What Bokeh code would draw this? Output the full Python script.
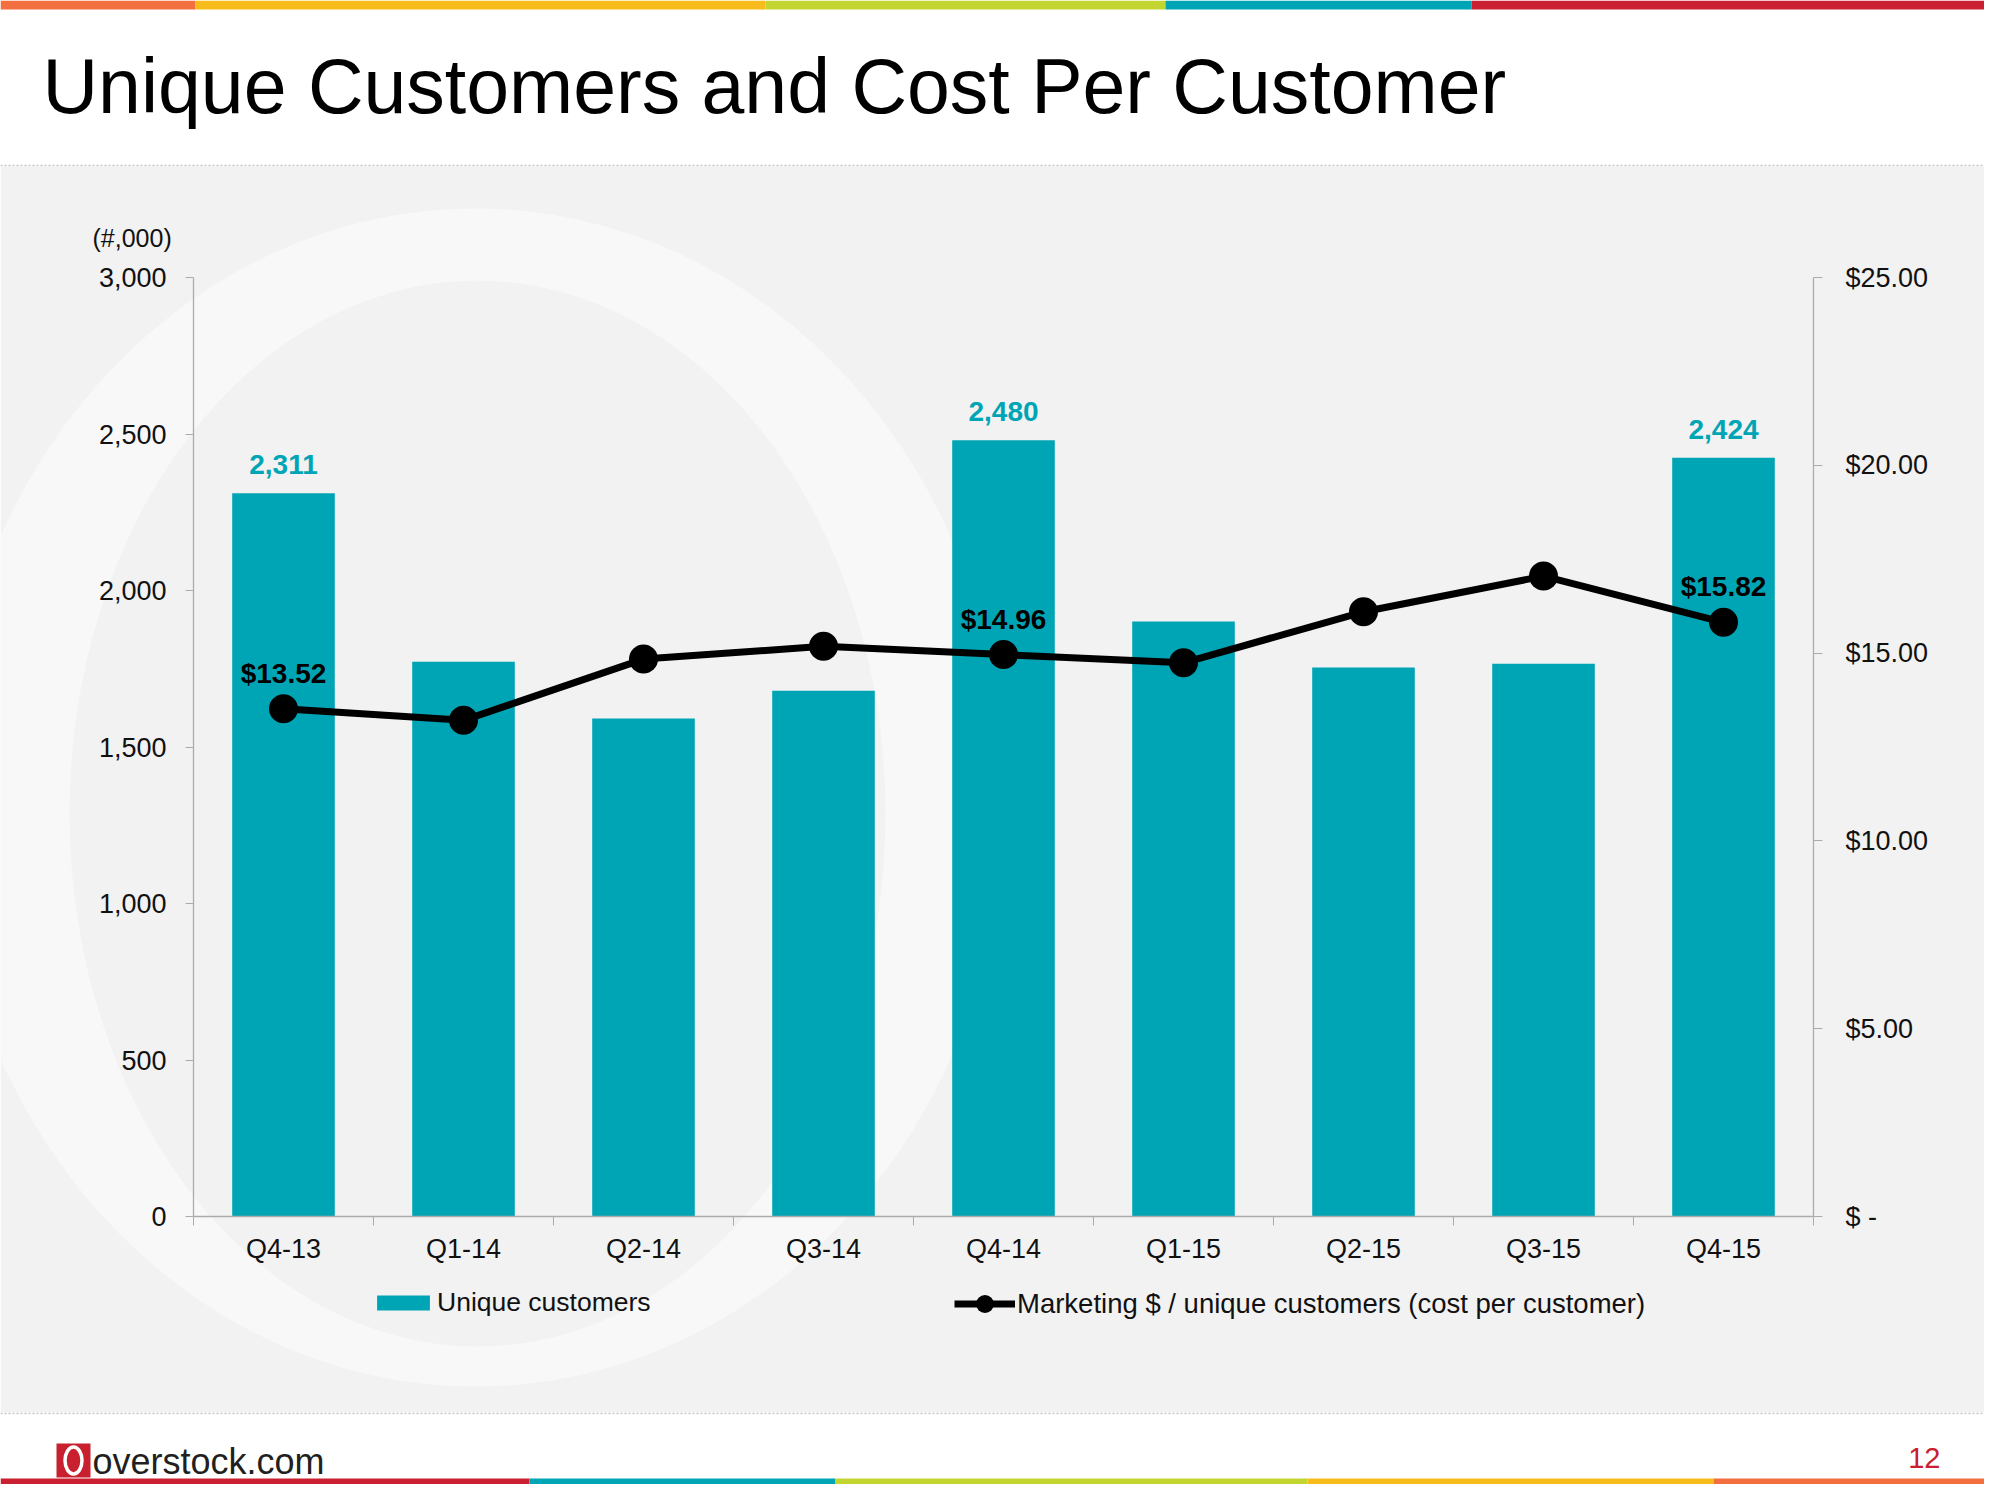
from bokeh.plotting import figure
from bokeh.models import (Range1d, LinearAxis, FixedTicker, NumeralTickFormatter,
                          ColumnDataSource, LabelSet, Legend, LegendItem, Label)
from bokeh.embed import file_html
from bokeh.resources import INLINE
from bokeh.core.properties import value

# ---------------- data ----------------
quarters = ["Q4-13", "Q1-14", "Q2-14", "Q3-14", "Q4-14", "Q1-15", "Q2-15", "Q3-15", "Q4-15"]
unique_customers = [2311, 1772, 1591, 1680, 2480, 1901, 1754, 1766, 2424]
cost_per_customer = [13.52, 13.21, 14.84, 15.18, 14.96, 14.74, 16.10, 17.05, 15.82]
labeled_quarters = ["Q4-13", "Q4-14", "Q4-15"]
left_ticks = [0, 500, 1000, 1500, 2000, 2500, 3000]
right_ticks = [0, 5, 10, 15, 20, 25]
right_zero_label = "$ -"
title_text = "Unique Customers and Cost Per Customer"
left_unit_text = "(#,000)"
bar_legend = "Unique customers"
line_legend = "Marketing $ / unique customers (cost per customer)"

# ---------------- style / layout ----------------
FONT = "Liberation Sans"
TEAL = "#00A5B5"
GRAY_BG = "#F2F2F2"
AXIS_GRAY = "#ABABAB"
W, H = 1984, 1484
L, R, T, B = 193, 1813, 277, 1216      # plot area in slide pixels
LEFT_MAX, RIGHT_MAX = 3000, 25
MID = 0.3465                            # em offset from text middle to baseline

n = len(quarters)
cat_w = (R - L) / n
upp_l = LEFT_MAX / (B - T)
upp_r = RIGHT_MAX / (B - T)

p = figure(width=W, height=H, output_backend="svg", toolbar_location=None,
           x_range=Range1d(-0.5 - L / cat_w, -0.5 + (W - L) / cat_w),
           y_range=Range1d((B - H) * upp_l, B * upp_l),
           x_axis_location=None, y_axis_location=None, min_border=0,
           outline_line_color=None, background_fill_color="white",
           border_fill_color="white")
p.grid.visible = False
p.extra_x_ranges = {"px": Range1d(0, W)}
p.extra_y_ranges = {"px": Range1d(H, 0),
                    "usd": Range1d((B - H) * upp_r, B * upp_r)}
PX = dict(x_range_name="px", y_range_name="px")

# slide background
p.quad(left=0, right=2000, top=166, bottom=1412, fill_color=GRAY_BG, line_color=None, **PX)
# faint logo watermark ring
p.ellipse(x=475, y=797, width=1060, height=1178, fill_color="#F8F8F8", line_color=None, **PX)
p.ellipse(x=477, y=813, width=816, height=1066, fill_color=GRAY_BG, line_color=None, **PX)

# top and bottom colour stripes
p.quad(left=[0, 195, 765, 1165, 1471], right=[195, 765, 1165, 1471, 2000],
       top=0, bottom=9,
       fill_color=["#F36F40", "#F8BB1C", "#C3D530", "#00A5B5", "#CB2031"],
       line_color=None, **PX)
p.quad(left=[0, 529, 835, 1307, 1713], right=[529, 835, 1307, 1713, 2000],
       top=1478, bottom=1484,
       fill_color=["#CB2031", "#00A5B5", "#C3D530", "#F8BB1C", "#F36F40"],
       line_color=None, **PX)
# dotted separators
p.segment(x0=[0, 0], x1=[2000, 2000], y0=[165, 1413], y1=[165, 1413],
          line_color="#C4C4C4", line_width=1.5, line_dash="2 2", **PX)

# ---------------- chart ----------------
xs = list(range(n))
bars = p.vbar(x=xs, top=unique_customers, width=0.57, fill_color=TEAL, line_color=None)
line = p.line(xs, cost_per_customer, y_range_name="usd", line_color="black", line_width=7)
dots = p.scatter(xs, cost_per_customer, y_range_name="usd", size=29,
                 fill_color="black", line_color=None)

lab_idx = [quarters.index(q) for q in labeled_quarters]
src_u = ColumnDataSource(dict(x=lab_idx, y=[unique_customers[i] for i in lab_idx],
                              t=[f"{unique_customers[i]:,}" for i in lab_idx]))
src_c = ColumnDataSource(dict(x=lab_idx, y=[cost_per_customer[i] for i in lab_idx],
                              t=[f"${cost_per_customer[i]:.2f}" for i in lab_idx]))
p.add_layout(LabelSet(x="x", y="y", text="t", source=src_u, text_align="center",
                      text_baseline="alphabetic", y_offset=19, text_color=TEAL,
                      text_font=value(FONT), text_font_style="bold",
                      text_font_size="28px"))
p.add_layout(LabelSet(x="x", y="y", text="t", source=src_c, y_range_name="usd",
                      text_align="center", text_baseline="alphabetic", y_offset=26,
                      text_color="black", text_font=value(FONT),
                      text_font_style="bold", text_font_size="28px"))

axis_style = dict(axis_line_color=AXIS_GRAY, axis_line_width=1.3,
                  major_tick_line_color=AXIS_GRAY, minor_tick_line_color=AXIS_GRAY,
                  major_tick_in=0, minor_tick_in=0,
                  major_label_text_font=FONT, major_label_text_font_size="27px",
                  major_label_text_color="#111111")

yl = LinearAxis(fixed_location=-0.5, bounds=(0, LEFT_MAX),
                ticker=FixedTicker(ticks=left_ticks, minor_ticks=[]),
                formatter=NumeralTickFormatter(format="0,0"),
                major_tick_out=8, minor_tick_out=0, major_label_standoff=19, **axis_style)
p.add_layout(yl, "left")

yr = LinearAxis(y_range_name="usd", fixed_location=n - 0.5, bounds=(0, RIGHT_MAX),
                ticker=FixedTicker(ticks=right_ticks, minor_ticks=[]),
                formatter=NumeralTickFormatter(format="$0.00"),
                major_label_overrides={0: right_zero_label},
                major_tick_out=9, minor_tick_out=0, major_label_standoff=23, **axis_style)
p.add_layout(yr, "right")

xb = LinearAxis(fixed_location=0, bounds=(-0.5, n - 0.5),
                ticker=FixedTicker(ticks=xs, minor_ticks=[i - 0.5 for i in range(n + 1)]),
                major_label_overrides={i: q for i, q in enumerate(quarters)},
                major_tick_out=0, minor_tick_out=9, major_label_standoff=8, **axis_style)
xb.major_tick_line_color = None
p.add_layout(xb, "below")

# legends
leg_common = dict(orientation="horizontal", padding=0, margin=0, spacing=0,
                  border_line_color=None, background_fill_alpha=0,
                  label_text_font=FONT, label_text_color="#111111")
leg1 = Legend(items=[LegendItem(label=bar_legend, renderers=[bars])],
              location=(370, H - 1318), glyph_width=66, glyph_height=19,
              label_standoff=1, label_text_font_size="26.5px", **leg_common)
leg2 = Legend(items=[LegendItem(label=line_legend, renderers=[line, dots])],
              location=(954, H - 1326), glyph_width=61, glyph_height=45,
              label_standoff=2, label_text_font_size="27.5px", **leg_common)
p.add_layout(leg1)
p.add_layout(leg2)

# ---------------- slide texts ----------------
def slide_text(x, baseline, text, size, color, align="left", style="normal"):
    p.add_layout(Label(x=x, y=baseline - MID * size, text=text, text_font=FONT,
                       text_font_size=f"{size}px", text_color=color, text_align=align,
                       text_baseline="middle", text_font_style=style, **PX))

slide_text(42, 112, title_text, 77, "black")
slide_text(92, 246, left_unit_text, 25, "#111111")

# footer: logo and page number
p.quad(left=56, right=90, top=1443, bottom=1477, fill_color="#C8202F", line_color=None, **PX)
p.ellipse(x=73, y=1460, width=17, height=27, fill_color=None, line_color="white",
          line_width=3.5, **PX)
slide_text(92, 1473, "overstock.com", 36, "#231F20")
slide_text(1940, 1468, "12", 29, "#C8202F", align="right")

open("out.html", "w").write(file_html(p, INLINE))
